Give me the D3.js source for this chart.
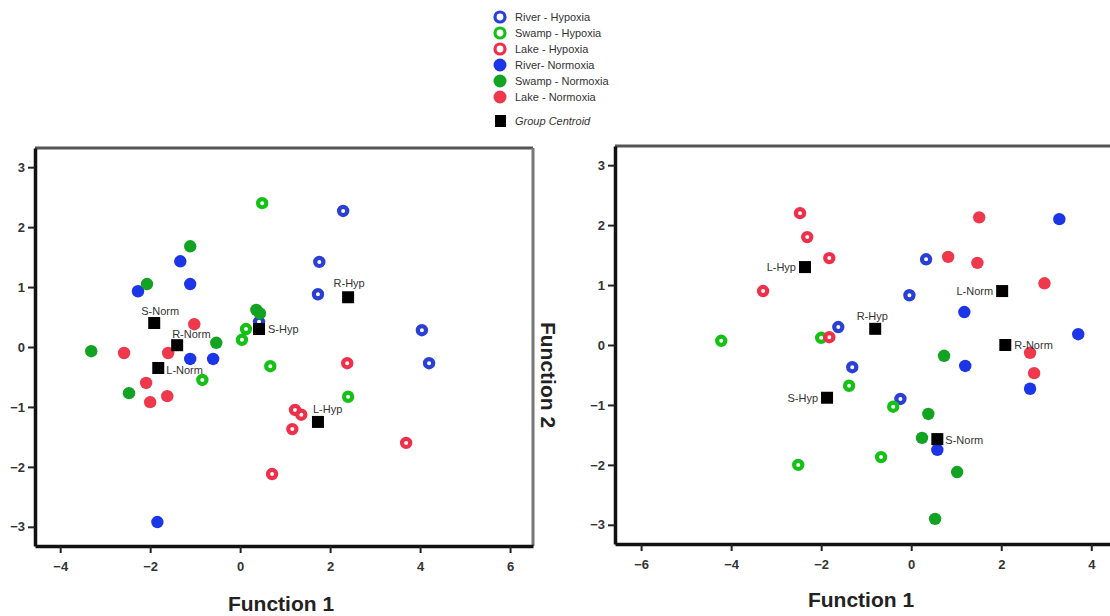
<!DOCTYPE html>
<html>
    <head>
        <title>Discriminant scores</title>
        <meta charset="UTF-8">
        <script type="text/javascript" src="https://cdn.jsdelivr.net/npm/d3@7"></script>
        <style type="text/css">
            body { margin: 0; background: #fff; }
            text { font-family: "Liberation Sans", Arial, sans-serif; }
        </style>
    </head>
    <body>
        <div id="chart"></div>

        <script type="text/javascript">

            var svgW = 1110;
            var svgH = 616;

            // legend entries, in order
            var groupNames = ["River - Hypoxia", "Swamp - Hypoxia", "Lake - Hypoxia",
                "River- Normoxia", "Swamp - Normoxia", "Lake - Normoxia"];
            var groupColors = ["#2a3fd6", "#16c116", "#f0304a", "#1c35e6", "#11a321", "#f0384c"];
            var groupOpen = [true, true, true, false, false, false];

            var xTicksLeft = [-4, -2, 0, 2, 4, 6];
            var xTicksRight = [-6, -4, -2, 0, 2, 4];
            var yTicks = [-3, -2, -1, 0, 1, 2, 3];

            // left panel: discriminant scores [function 1, function 2]
            var leftRiverHyp = [[2.29, 2.27], [1.76, 1.42], [1.73, 0.88], [4.04, 0.28], [4.2, -0.27], [0.42, 0.42]];
            var leftSwampHyp = [[0.49, 2.4], [0.13, 0.3], [0.04, 0.12], [0.67, -0.32], [-0.84, -0.55], [2.4, -0.83]];
            var leftLakeHyp = [[2.38, -0.27], [1.22, -1.05], [1.36, -1.13], [1.16, -1.37], [0.71, -2.12], [3.69, -1.6]];
            var leftRiverNorm = [[-2.27, 0.93], [-1.33, 1.43], [-1.11, 1.05], [-1.11, -0.2], [-0.6, -0.2], [-1.84, -2.92]];
            var leftSwampNorm = [[-2.07, 1.05], [-1.11, 1.68], [0.36, 0.62], [0.44, 0.56], [-0.53, 0.07], [-3.31, -0.07], [-2.47, -0.77]];
            var leftLakeNorm = [[-1.02, 0.38], [-2.58, -0.1], [-1.6, -0.1], [-2.09, -0.6], [-2.0, -0.92], [-1.62, -0.82]];
            var leftCentroids = [
                {label: "S-Norm", x: -1.91, y: 0.4},
                {label: "R-Norm", x: -1.4, y: 0.03},
                {label: "L-Norm", x: -1.82, y: -0.35},
                {label: "S-Hyp", x: 0.42, y: 0.3},
                {label: "R-Hyp", x: 2.4, y: 0.83},
                {label: "L-Hyp", x: 1.73, y: -1.25}
            ];

            // right panel
            var rightRiverHyp = [[0.33, 1.43], [-0.04, 0.83], [-1.62, 0.3], [-1.31, -0.37], [-0.24, -0.9]];
            var rightSwampHyp = [[-4.22, 0.07], [-2.0, 0.12], [-1.38, -0.68], [-0.4, -1.03], [-0.67, -1.87], [-2.51, -2.0]];
            var rightLakeHyp = [[-2.47, 2.2], [-2.31, 1.8], [-1.82, 1.45], [-3.29, 0.9], [-1.82, 0.13]];
            var rightRiverNorm = [[3.29, 2.1], [1.18, 0.55], [3.71, 0.18], [1.2, -0.35], [2.64, -0.73], [0.58, -1.75]];
            var rightSwampNorm = [[0.73, -0.18], [0.38, -1.15], [0.24, -1.55], [1.02, -2.12], [0.53, -2.9]];
            var rightLakeNorm = [[1.51, 2.13], [0.82, 1.47], [1.47, 1.37], [2.96, 1.03], [2.64, -0.13], [2.73, -0.47]];
            var rightCentroids = [
                {label: "L-Hyp", x: -2.36, y: 1.3},
                {label: "R-Hyp", x: -0.8, y: 0.27},
                {label: "L-Norm", x: 2.02, y: 0.9},
                {label: "R-Norm", x: 2.09, y: 0.0},
                {label: "S-Hyp", x: -1.87, y: -0.88},
                {label: "S-Norm", x: 0.58, y: -1.57}
            ];

            var svg = d3.select("#chart").append("svg")
                    .attr("width", svgW)
                    .attr("height", svgH);

            ///////////////////////////////////////////////////////////////
            // one scatter panel
            ///////////////////////////////////////////////////////////////
            function drawPanel(p) {
                var xs = d3.scaleLinear().domain(p.xDomain).range([p.left, p.right]);
                var ys = d3.scaleLinear().domain([-3.32, 3.32]).range([p.bottom, p.top]);
                var g = svg.append("g");

                // frame: grey top/right, black left/bottom
                g.append("line").attr("x1", p.left).attr("x2", p.right)
                        .attr("y1", p.top).attr("y2", p.top)
                        .attr("stroke", "#555").attr("stroke-width", 3);
                if (p.rightBorder) {
                    g.append("line").attr("x1", p.right).attr("x2", p.right)
                            .attr("y1", p.top).attr("y2", p.bottom)
                            .attr("stroke", "#777").attr("stroke-width", 3);
                }

                var xAxis = g.append("g")
                        .attr("transform", "translate(0," + p.bottom + ")")
                        .call(d3.axisBottom(xs).tickValues(p.xTicks).tickFormat(d3.format("d"))
                                .tickSize(7).tickPadding(9).tickSizeOuter(0));
                var yAxis = g.append("g")
                        .attr("transform", "translate(" + p.left + ",0)")
                        .call(d3.axisLeft(ys).tickValues(yTicks).tickFormat(d3.format("d"))
                                .tickSize(7).tickPadding(3).tickSizeOuter(0));
                [xAxis, yAxis].forEach(function (a) {
                    a.select(".domain").attr("stroke", "#111").attr("stroke-width", 3.5);
                    a.selectAll(".tick line").attr("stroke", "#222").attr("stroke-width", 2);
                    a.selectAll(".tick text")
                            .attr("fill", "#333")
                            .style("font-size", "13px")
                            .style("font-weight", "bold");
                });

                // points per group
                p.groups.forEach(function (pts, gi) {
                    var open = groupOpen[gi];
                    g.selectAll("circle.g" + gi)
                            .data(pts)
                            .enter()
                            .append("circle")
                            .attr("class", "g" + gi)
                            .attr("cx", function (d) { return xs(d[0]); })
                            .attr("cy", function (d) { return ys(d[1]); })
                            .attr("r", open ? 4.1 : 6.2)
                            .attr("fill", open ? "none" : groupColors[gi])
                            .attr("stroke", open ? groupColors[gi] : "none")
                            .attr("stroke-width", open ? 4.2 : 0);
                });

                // group centroids
                var cg = g.selectAll("g.centroid")
                        .data(p.centroids)
                        .enter()
                        .append("g")
                        .attr("class", "centroid")
                        .attr("transform", function (d) {
                            return "translate(" + xs(d.x) + "," + ys(d.y) + ")";
                        });
                cg.append("rect")
                        .attr("x", -6).attr("y", -6)
                        .attr("width", 12).attr("height", 12)
                        .attr("fill", "#000");
                cg.append("text")
                        .text(function (d) { return d.label; })
                        .attr("x", function (d) { return p.labelPos[d.label][0]; })
                        .attr("y", function (d) { return p.labelPos[d.label][1]; })
                        .attr("text-anchor", function (d) { return p.labelPos[d.label][2]; })
                        .attr("fill", "#333")
                        .style("font-size", "11px");

                g.append("text")
                        .attr("x", p.titleX)
                        .attr("y", p.titleY)
                        .attr("text-anchor", "middle")
                        .attr("fill", "#222")
                        .style("font-size", "21px")
                        .style("font-weight", "bold")
                        .text("Function 1");
            }

            drawPanel({
                left: 35, right: 533, top: 148, bottom: 546,
                xDomain: [-4.56, 6.51], xTicks: xTicksLeft, rightBorder: true,
                groups: [leftRiverHyp, leftSwampHyp, leftLakeHyp, leftRiverNorm, leftSwampNorm, leftLakeNorm],
                centroids: leftCentroids,
                labelPos: {
                    "S-Norm": [6, -8, "middle"], "R-Norm": [-5, -7, "start"], "L-Norm": [8, 6, "start"],
                    "S-Hyp": [9, 4, "start"], "R-Hyp": [1, -10, "middle"], "L-Hyp": [-5, -9, "start"]
                },
                titleX: 281, titleY: 611
            });

            drawPanel({
                left: 615, right: 1112, top: 146, bottom: 544,
                xDomain: [-6.58, 4.46], xTicks: xTicksRight, rightBorder: false,
                groups: [rightRiverHyp, rightSwampHyp, rightLakeHyp, rightRiverNorm, rightSwampNorm, rightLakeNorm],
                centroids: rightCentroids,
                labelPos: {
                    "L-Hyp": [-9, 4, "end"], "R-Hyp": [-3, -9, "middle"], "L-Norm": [-9, 4, "end"],
                    "R-Norm": [9, 4, "start"], "S-Hyp": [-9, 4, "end"], "S-Norm": [8, 5, "start"]
                },
                titleX: 861, titleY: 607
            });

            // Function 2 label between the panels
            svg.append("text")
                    .attr("transform", "translate(541,375) rotate(90)")
                    .attr("text-anchor", "middle")
                    .attr("fill", "#222")
                    .style("font-size", "21px")
                    .style("font-weight", "bold")
                    .text("Function 2");

            ///////////////////////////////////////////////////////////////
            // legend
            ///////////////////////////////////////////////////////////////
            var legend = svg.append("g").attr("transform", "translate(500,17)");
            var items = legend.selectAll("g.item")
                    .data(groupNames)
                    .enter()
                    .append("g")
                    .attr("class", "item")
                    .attr("transform", function (d, i) { return "translate(0," + (i * 16) + ")"; });
            items.append("circle")
                    .attr("r", function (d, i) { return groupOpen[i] ? 5 : 6.5; })
                    .attr("fill", function (d, i) { return groupOpen[i] ? "none" : groupColors[i]; })
                    .attr("stroke", function (d, i) { return groupOpen[i] ? groupColors[i] : "none"; })
                    .attr("stroke-width", 3.2);
            items.append("text")
                    .attr("x", 15).attr("y", 4)
                    .attr("fill", "#333")
                    .style("font-size", "11px")
                    .text(function (d) { return d; });
            legend.append("rect")
                    .attr("x", -5).attr("y", 98)
                    .attr("width", 11).attr("height", 12)
                    .attr("fill", "#000");
            legend.append("text")
                    .attr("x", 15).attr("y", 108)
                    .attr("fill", "#333")
                    .style("font-size", "11px")
                    .style("font-style", "italic")
                    .text("Group Centroid");
        </script>

    </body>
</html>
